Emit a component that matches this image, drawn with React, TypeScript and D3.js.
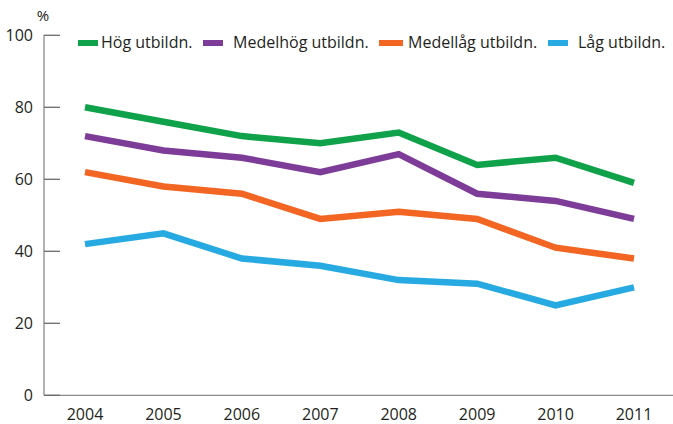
import React from "react";
import * as d3 from "d3";

const years = [2004, 2005, 2006, 2007, 2008, 2009, 2010, 2011];
const hog = [80, 76, 72, 70, 73, 64, 66, 59];
const medelhog = [72, 68, 66, 62, 67, 56, 54, 49];
const medellag = [62, 58, 56, 49, 51, 49, 41, 38];
const lag = [42, 45, 38, 36, 32, 31, 25, 30];
const seriesNames = ["Hög utbildn.", "Medelhög utbildn.", "Medellåg utbildn.", "Låg utbildn."];
const seriesColors = ["#0FA24A", "#7D3C98", "#F26522", "#27AAE1"];
const yTicks = [0, 20, 40, 60, 80, 100];

const W = 673;
const H = 424;

export default function App() {
  const x = d3.scalePoint<number>().domain(years).range([85, 634]);
  const y = d3.scaleLinear().domain([0, 100]).range([395.3, 35.3]);
  const line = d3
    .line<number>()
    .x((_, i) => x(years[i]) as number)
    .y((d) => y(d));
  const allSeries = [hog, medelhog, medellag, lag];
  const legendX = [78, 203, 379, 548];
  const legendTextX = [101, 233, 408, 578];
  const font = "'Open Sans', sans-serif";
  const textColor = "#231F20";
  return (
    <svg
      width={W}
      height={H}
      style={{ position: "absolute", left: 0, top: 0, background: "#fff" }}
      fontFamily={font}
    >
      <rect width={W} height={H} fill="#fff" />
      <line x1={44} x2={44} y1={y(100)} y2={y(0)} stroke="#8a8a8a" strokeWidth={1.3} />
      <line x1={44} x2={W} y1={y(0)} y2={y(0)} stroke="#8a8a8a" strokeWidth={1.3} />
      {yTicks.map((t) => (
        <g key={t}>
          <line x1={44} x2={60} y1={y(t)} y2={y(t)} stroke="#6a6a6a" strokeWidth={1.3} />
          <text x={33} y={y(t) + 5.5} textAnchor="end" fontSize={16} fill={textColor}>
            {t}
          </text>
        </g>
      ))}
      <text x={43} y={21} textAnchor="middle" fontSize={15} fill={textColor}>
        %
      </text>
      {years.map((yr) => (
        <text key={yr} x={x(yr) as number} y={419.5} textAnchor="middle" fontSize={16} fill={textColor}>
          {yr}
        </text>
      ))}
      {allSeries.map((s, i) => (
        <path
          key={i}
          d={line(s) || ""}
          fill="none"
          stroke={seriesColors[i]}
          strokeWidth={6.5}
          strokeLinejoin="miter"
        />
      ))}
      {seriesNames.map((n, i) => (
        <g key={n}>
          <rect x={legendX[i]} y={40} width={i === 2 ? 24 : 20} height={6} fill={seriesColors[i]} />
          <text x={legendTextX[i]} y={48} fontSize={16} fill={textColor}>
            {n}
          </text>
        </g>
      ))}
    </svg>
  );
}
